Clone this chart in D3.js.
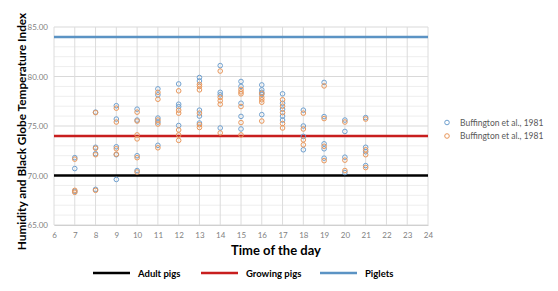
<!DOCTYPE html>
<html>
<head>
<meta charset="utf-8">
<script src="https://cdn.jsdelivr.net/npm/d3@7"></script>
<style>
  body { margin: 0; background: #fff; }
  text { font-family: Lato, "Open Sans", sans-serif; }
  .tick text { fill: #7f7f7f; font-size: 8px; }
  .AxisTitle { font-weight: 700; fill: #000; }
  .Legend { font-size: 9.5px; font-weight: 700; fill: #000; }
  .SeriesLegend { font-size: 8.5px; fill: #595959; }
</style>
</head>
<body>
<div id="viz"></div>
<script>
// hours on x axis
const hourTicks = d3.range(6, 25)
const yTicks = [65, 70, 75, 80, 85]

// Buffington et al., 1981 (blue)  [hour, index]
const seriesBlue = [
  [7,71.8],[7,70.7],[7,68.4],
  [8,76.4],[8,72.85],[8,72.2],[8,68.6],
  [9,77.05],[9,75.7],[9,72.9],[9,72.1],[9,69.6],
  [10,76.7],[10,75.6],[10,72.0],[10,70.5],
  [11,78.75],[11,78.15],[11,75.8],[11,75.4],[11,73.05],
  [12,79.25],[12,77.2],[12,76.95],[12,75.05],
  [13,79.9],[13,79.55],[13,76.6],[13,76.0],[13,75.3],
  [14,81.1],[14,78.4],[14,78.15],[14,74.8],
  [15,79.5],[15,79.0],[15,77.3],[15,75.97],[15,74.7],
  [16,79.15],[16,78.65],[16,78.4],[16,78.2],[16,76.15],
  [17,78.25],[17,77.3],[17,76.7],[17,76.0],[17,75.6],
  [18,76.6],[18,75.0],[18,73.95],[18,72.6],
  [19,79.4],[19,75.95],[19,73.2],[19,72.7],[19,71.75],
  [20,75.6],[20,74.45],[20,71.85],[20,70.3],
  [21,75.85],[21,72.85],[21,72.4],[21,71.0]
]
// Buffington et al., 1981 (orange)
const seriesOrange = [
  [7,71.65],[7,68.5],[7,68.3],
  [8,76.35],[8,72.75],[8,72.1],[8,68.5],
  [9,76.8],[9,75.4],[9,72.7],[9,72.15],
  [10,76.4],[10,75.5],[10,74.1],[10,73.7],[10,71.8],[10,70.35],
  [11,78.4],[11,77.7],[11,75.6],[11,75.2],[11,72.8],
  [12,78.55],[12,76.6],[12,76.3],[12,74.6],[12,74.1],[12,73.55],
  [13,79.2],[13,79.0],[13,78.65],[13,76.3],[13,75.13],[13,74.85],
  [14,80.55],[14,77.9],[14,77.55],[14,77.2],[14,74.3],
  [15,78.7],[15,78.45],[15,78.25],[15,76.97],[15,75.35],[15,74.1],
  [16,78.3],[16,77.9],[16,77.65],[16,77.4],[16,75.5],
  [17,77.65],[17,77.0],[17,76.35],[17,75.25],[17,74.8],
  [18,76.3],[18,74.7],[18,73.6],[18,73.1],
  [19,79.05],[19,75.75],[19,72.95],[19,71.5],
  [20,75.4],[20,71.55],[20,70.5],
  [21,75.7],[21,72.6],[21,72.1],[21,70.8]
]

// threshold lines
const thresholdNames = ["Adult pigs", "Growing pigs", "Piglets"]
const thresholdValues = [70, 74, 84]
const thresholdColors = ["#000000", "#c81e1e", "#5b93c4"]

const seriesNames = ["Buffington et al., 1981", "Buffington et al., 1981"]
const seriesColors = ["#6fa0cf", "#e8965a"]

const W = 558, H = 291
const svg = d3.select("#viz").append("svg").attr("width", W).attr("height", H)

const x = d3.scaleLinear().domain([6, 24]).range([54, 428])
const y = d3.scaleLinear().domain([65, 85]).range([225, 27])

// minor horizontal grid
svg.append("g").selectAll("line").data(d3.range(65, 86)).join("line")
  .attr("x1", x(6)).attr("x2", x(24))
  .attr("y1", d => y(d)).attr("y2", d => y(d))
  .attr("stroke", d => d % 5 == 0 ? "#d9d9d9" : "#eeeeee")
  .attr("stroke-width", 1)

// vertical grid
svg.append("g").selectAll("line").data(hourTicks).join("line")
  .attr("x1", d => x(d)).attr("x2", d => x(d))
  .attr("y1", y(85)).attr("y2", y(65))
  .attr("stroke", "#dcdcdc")

// axes
const yAxis = svg.append("g").attr("transform", `translate(${x(6)},0)`)
  .call(d3.axisLeft(y).tickValues(yTicks).tickSize(0).tickPadding(6).tickFormat(d3.format(".2f")))
yAxis.select(".domain").remove()

const xAxis = svg.append("g").attr("transform", `translate(0,${y(65)})`)
  .call(d3.axisBottom(x).tickValues(hourTicks).tickSize(0).tickPadding(7))
xAxis.select(".domain").attr("stroke", "#d0d0d0")

// threshold lines
svg.append("g").selectAll("line").data(thresholdValues).join("line")
  .attr("x1", x(6)).attr("x2", x(24))
  .attr("y1", d => y(d)).attr("y2", d => y(d))
  .attr("stroke", (d, i) => thresholdColors[i])
  .attr("stroke-width", 2.5)

// scatter points
;[seriesBlue, seriesOrange].forEach((s, i) => {
  svg.append("g").selectAll("circle").data(s).join("circle")
    .attr("cx", d => x(d[0])).attr("cy", d => y(d[1]))
    .attr("r", 2.3)
    .attr("fill", "none")
    .attr("stroke", seriesColors[i])
    .attr("stroke-width", 1)
})

// axis titles
svg.append("text").attr("class", "AxisTitle")
  .attr("transform", `translate(25.5,131.5) rotate(-90)`)
  .attr("text-anchor", "middle").style("font-size", "11.8px")
  .text("Humidity and Black Globe Temperature Index")

svg.append("text").attr("class", "AxisTitle")
  .attr("x", 276).attr("y", 255).attr("text-anchor", "middle")
  .style("font-size", "13px")
  .text("Time of the day")

// series legend
const sLeg = svg.append("g")
seriesNames.forEach((n, i) => {
  sLeg.append("circle").attr("cx", 447).attr("cy", 122.5 + i * 13.5).attr("r", 2.3)
    .attr("fill", "none").attr("stroke", seriesColors[i]).attr("stroke-width", 1)
  sLeg.append("text").attr("class", "SeriesLegend")
    .attr("x", 460).attr("y", 125.5 + i * 13.5).text(n)
})

// threshold legend
const tLegX = [93, 201, 320]
thresholdNames.forEach((n, i) => {
  svg.append("line").attr("x1", tLegX[i]).attr("x2", tLegX[i] + 37)
    .attr("y1", 273).attr("y2", 273)
    .attr("stroke", thresholdColors[i]).attr("stroke-width", 2.5)
  svg.append("text").attr("class", "Legend")
    .attr("x", tLegX[i] + 45).attr("y", 276.5).text(n)
})
</script>
</body>
</html>
